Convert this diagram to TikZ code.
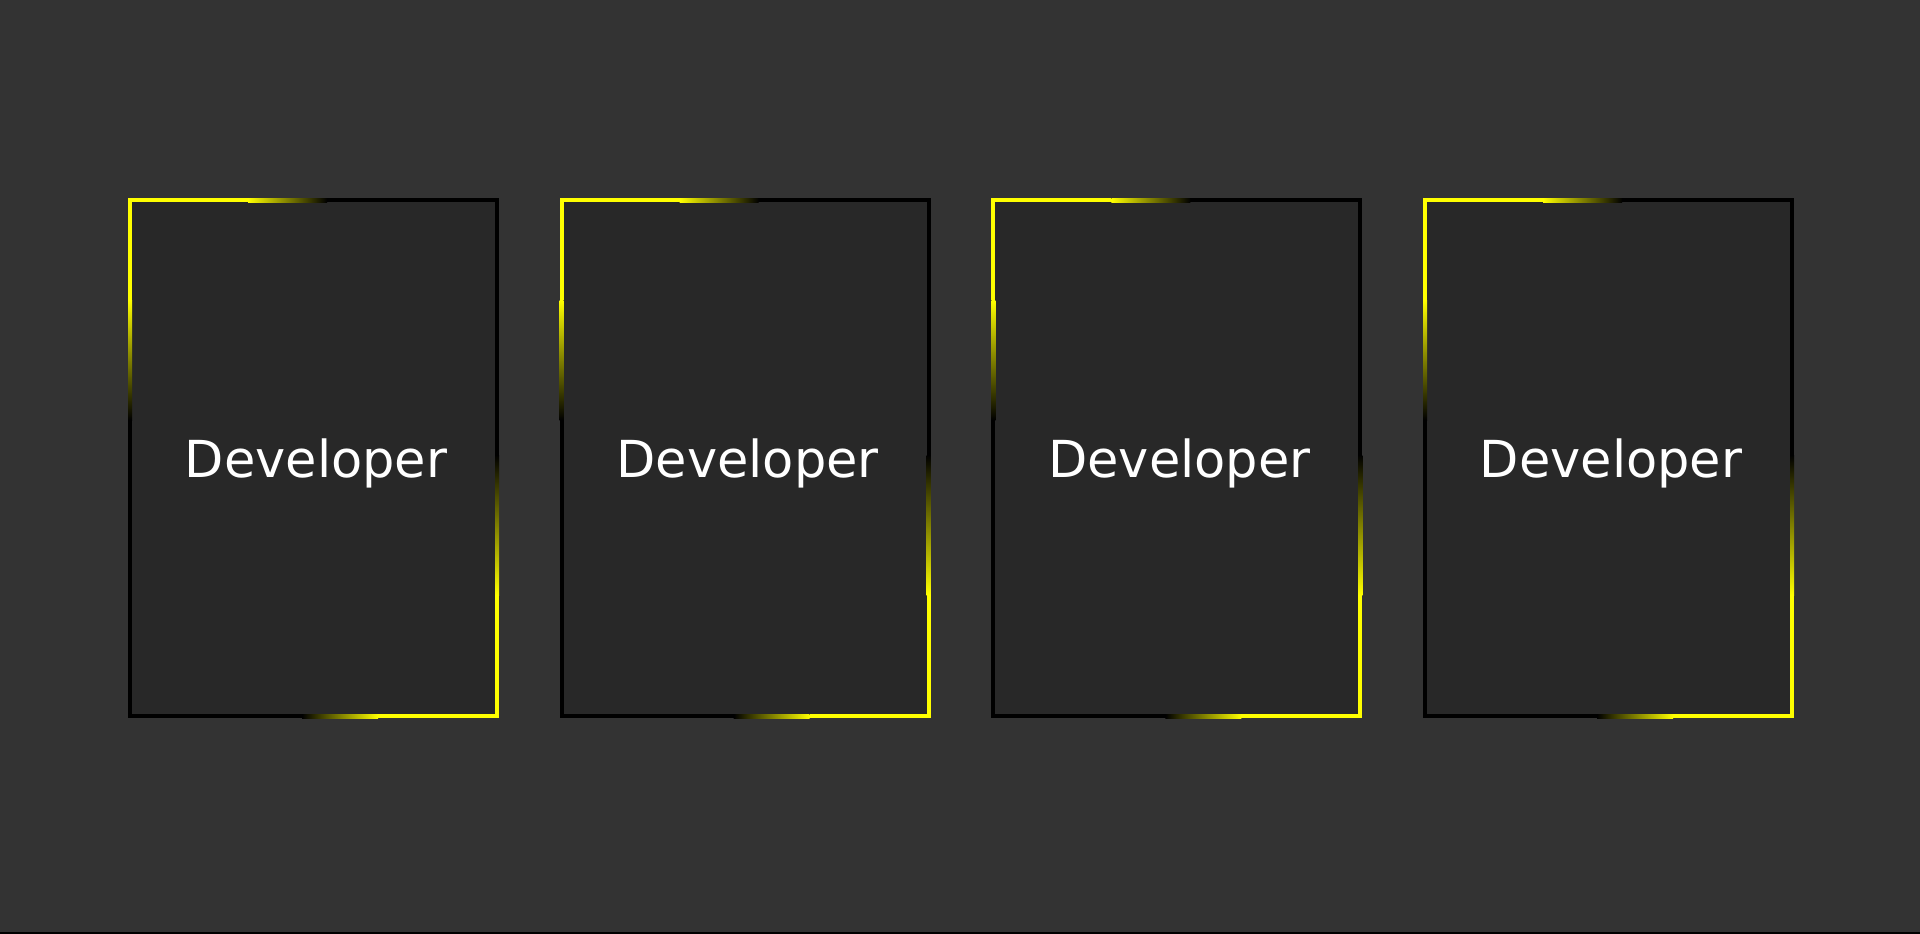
\documentclass[tikz,border=0pt]{standalone}
\usepackage{fontspec}
\setmainfont{DejaVu Sans}
\usepackage{tikz}
\definecolor{pagegray}{HTML}{333333}
\definecolor{cardgray}{HTML}{282828}
\definecolor{glow}{HTML}{FFFF00}

\begin{document}
\begin{tikzpicture}[x=1pt,y=-1pt,
  card/.style={draw=black,line width=4pt,fill=cardgray,minimum width=367pt,minimum height=516pt,inner sep=0pt},
  devtext/.style={anchor=base,text=white,font=\fontsize{51}{61}\selectfont}]
\fill[pagegray] (0,0) rectangle (1920,934);
\useasboundingbox (0,0) rectangle (1920,934);
\fill[black] (0,932) rectangle (1920,934);
\foreach \i/\x in {1/130,2/561.7,3/993.4,4/1425.1}{
\node[card] (card\i) at (\x+183.5,458) {};
\fill[glow] (\x-2,198) rectangle (\x+118,202);
\shade[left color=glow,right color=black] (\x+118,198) rectangle (\x+197,202);
\fill[glow] (\x-2,198) rectangle (\x+2,300);
\shade[top color=glow,bottom color=black] (\x-2,300) rectangle (\x+2,420);
\shade[top color=black,bottom color=glow] (\x+365,455) rectangle (\x+369,595);
\fill[glow] (\x+365,595) rectangle (\x+369,718);
\shade[left color=black,right color=glow] (\x+172,714) rectangle (\x+248,718);
\fill[glow] (\x+248,714) rectangle (\x+369,718);
\node[devtext] (dev\i) at (\x+186,477) {Developer};
}
\end{tikzpicture}
\end{document}
